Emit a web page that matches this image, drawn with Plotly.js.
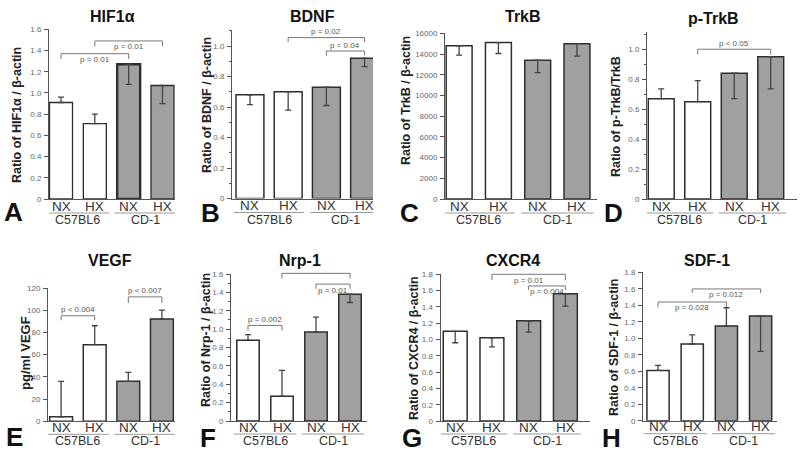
<!DOCTYPE html>
<html><head><meta charset="utf-8">
<script src="https://cdn.plot.ly/plotly-3.0.1.min.js"></script>
<style>html,body{margin:0;padding:0;background:#fff;}#chart{width:800px;height:456px;}</style>
</head><body><div id="chart"></div>
<script>
// ---- data ----
const categories = ['NX', 'HX', 'NX', 'HX'];
const groups = ['C57BL6', 'CD-1'];
const strain = ['C57BL6', 'C57BL6', 'CD-1', 'CD-1'];

const hif1aValues = [0.91, 0.71, 1.27, 1.07];
const hif1aErr = [0.05, 0.09, 0.19, 0.17];
const hif1aErrDir = ['up', 'up', 'down', 'down'];
const hif1aTicks = [0, 0.2, 0.4, 0.6, 0.8, 1.0, 1.2, 1.4, 1.6];
const hif1aBrackets = [[0, 2, 1.37, 0.05, 'p = 0.01', 'below'], [1, 3, 1.49, 0.05, 'p = 0.01', 'below']];

const bdnfValues = [0.68, 0.70, 0.73, 0.92];
const bdnfErr = [0.065, 0.12, 0.12, 0.055];
const bdnfErrDir = ['down', 'down', 'down', 'down'];
const bdnfTicks = [0, 0.2, 0.4, 0.6, 0.8, 1.0];
const bdnfBrackets = [[1, 3, 1.055, 0.03, 'p = 0.02', 'above'], [2, 3, 0.967, 0.03, 'p = 0.04', 'above']];

const trkbValues = [14800, 15100, 13400, 15000];
const trkbErr = [900, 1050, 1200, 1200];
const trkbErrDir = ['down', 'down', 'down', 'down'];
const trkbTicks = [0, 2000, 4000, 6000, 8000, 10000, 12000, 14000, 16000];
const trkbBrackets = [];

const ptrkbValues = [0.67, 0.65, 0.84, 0.95];
const ptrkbErr = [0.065, 0.14, 0.17, 0.215];
const ptrkbErrDir = ['up', 'up', 'down', 'down'];
const ptrkbTicks = [0, 0.2, 0.4, 0.6, 0.8, 1.0];
const ptrkbBrackets = [[1, 3, 1.0, 0.035, 'p < 0.05', 'above']];

const vegfValues = [4, 69, 36, 92];
const vegfErr = [32, 17, 8, 8];
const vegfErrDir = ['up', 'up', 'up', 'up'];
const vegfTicks = [0, 20, 40, 60, 80, 100, 120];
const vegfBrackets = [[0, 1, 95, 4, 'p < 0.004', 'above'], [2, 3, 112, 5.5, 'p < 0.007', 'above']];

const nrp1Values = [0.88, 0.27, 0.97, 1.38];
const nrp1Err = [0.06, 0.28, 0.16, 0.09];
const nrp1ErrDir = ['up', 'up', 'up', 'down'];
const nrp1Ticks = [0, 0.2, 0.4, 0.6, 0.8, 1.0, 1.2, 1.4, 1.6];
const nrp1Brackets = [[0, 1, 1.04, 0.055, 'p = 0.002', 'above'], [1, 3, 1.607, 0.055, 'p = 0.005', 'below'], [2, 3, 1.49, 0.05, 'p = 0.01', 'below']];

const cxcr4Values = [1.10, 1.02, 1.23, 1.56];
const cxcr4Err = [0.14, 0.11, 0.14, 0.15];
const cxcr4ErrDir = ['down', 'down', 'down', 'down'];
const cxcr4Ticks = [0, 0.2, 0.4, 0.6, 0.8, 1.0, 1.2, 1.4, 1.6, 1.8];
const cxcr4Brackets = [[1, 3, 1.80, 0.07, 'p = 0.01', 'below'], [2, 3, 1.657, 0.05, 'p = 0.004', 'below']];

const sdf1Values = [0.61, 0.93, 1.15, 1.27];
const sdf1Err = [0.06, 0.11, 0.22, 0.43];
const sdf1ErrDir = ['up', 'up', 'up', 'down'];
const sdf1Ticks = [0, 0.2, 0.4, 0.6, 0.8, 1.0, 1.2, 1.4, 1.6, 1.8];
const sdf1Brackets = [[0, 2, 1.44, 0.06, 'p = 0.028', 'below'], [1, 3, 1.598, 0.05, 'p = 0.012', 'below']];

// ---- panel layout (positions in px) ----
const panels = [
  {letter:'A', title:'HIF1α', ytitle:'Ratio of HIF1α / β-actin', v:hif1aValues, e:hif1aErr, d:hif1aErrDir, ticks:hif1aTicks, br:hif1aBrackets,
   box:[49,175,29.3,199], ymax:1.6, xr:[-0.355,3.37], w:0.68, minor:false, row:1, tx:112, ty:17, ytx:17, yty:115, lx:13, ly:212, decimals:1},
  {letter:'B', title:'BDNF', ytitle:'Ratio of BDNF / β-actin', v:bdnfValues, e:bdnfErr, d:bdnfErrDir, ticks:bdnfTicks, br:bdnfBrackets,
   box:[232,373,30,198.5], ymax:1.105, xr:[-0.47,3.22], w:0.73, minor:true, row:1, tx:312, ty:17, ytx:207, yty:105, lx:210, ly:213, decimals:1},
  {letter:'C', title:'TrkB', ytitle:'Ratio of TrkB / β-actin', v:trkbValues, e:trkbErr, d:trkbErrDir, ticks:trkbTicks, br:trkbBrackets,
   box:[445,597,33.3,199], ymax:16000, xr:[-0.36,3.51], w:0.66, minor:false, row:1, tx:523, ty:17, ytx:406, yty:100, lx:409, ly:213, decimals:0},
  {letter:'D', title:'p-TrkB', ytitle:'Ratio of p-TrkB/TrkB', v:ptrkbValues, e:ptrkbErr, d:ptrkbErrDir, ticks:ptrkbTicks, br:ptrkbBrackets,
   box:[647,797,32.3,199], ymax:1.113, xr:[-0.39,3.72], w:0.71, minor:true, row:1, tx:713, ty:19, ytx:616, yty:117, lx:613, ly:213, decimals:1},
  {letter:'E', title:'VEGF', ytitle:'pg/ml VEGF', v:vegfValues, e:vegfErr, d:vegfErrDir, ticks:vegfTicks, br:vegfBrackets,
   box:[48,175,288,421.3], ymax:120, xr:[-0.39,3.39], w:0.68, minor:false, row:2, tx:110, ty:260, ytx:25, yty:353, lx:14, ly:437, decimals:0},
  {letter:'F', title:'Nrp-1', ytitle:'Ratio of Nrp-1 / β-actin', v:nrp1Values, e:nrp1Err, d:nrp1ErrDir, ticks:nrp1Ticks, br:nrp1Brackets,
   box:[231,367,274,421], ymax:1.6, xr:[-0.5,3.5], w:0.66, minor:true, row:2, tx:300, ty:260, ytx:206, yty:340, lx:208, ly:438, decimals:1},
  {letter:'G', title:'CXCR4', ytitle:'Ratio of CXCR4 / β-actin', v:cxcr4Values, e:cxcr4Err, d:cxcr4ErrDir, ticks:cxcr4Ticks, br:cxcr4Brackets,
   box:[440.5,590,274.3,421], ymax:1.8, xr:[-0.40,3.67], w:0.65, minor:false, row:2, tx:513, ty:260, ytx:414, yty:348, lx:412, ly:438, decimals:1},
  {letter:'H', title:'SDF-1', ytitle:'Ratio of SDF-1 / β-actin', v:sdf1Values, e:sdf1Err, d:sdf1ErrDir, ticks:sdf1Ticks, br:sdf1Brackets,
   box:[643,777,272.3,420.7], ymax:1.8, xr:[-0.44,3.48], w:0.65, minor:false, row:2, tx:707, ty:260, ytx:614, yty:347, lx:611, ly:438, decimals:1}
];

const W = 800, H = 456;
const FONT = 'Liberation Sans, Arial, Helvetica, sans-serif';
const px = x => x / W;
const py = y => 1 - y / H;
const WHITE = '#ffffff', GRAY = '#a0a0a0', EDGE = '#2e2e2e', AXIS = '#555555';

const traces = [];
const layout = {
  width: W, height: H, margin: {l:0, r:0, t:0, b:0},
  paper_bgcolor: '#fff', plot_bgcolor: '#fff', showlegend: false, bargap: 0,
  font: {family: FONT, color: '#222'},
  annotations: [], shapes: []
};

panels.forEach((p, i) => {
  const n = i + 1;
  const xa = n === 1 ? 'x' : 'x' + n;
  const ya = n === 1 ? 'y' : 'y' + n;
  const [x0, x1, yTop, yZero] = p.box;
  const xs = categories.map((c, k) => k);
  traces.push({
    type: 'bar', x: xs, y: p.v, xaxis: xa, yaxis: ya, width: p.w,
    marker: {color: strain.map(s => s === groups[0] ? WHITE : GRAY),
             line: {color: EDGE, width: p.letter === 'A' ? [1.3, 1.3, 2.4, 1.3] : 1.5}},
    error_y: {type: 'data', symmetric: false,
              array: p.e.map((e, k) => p.d[k] === 'up' ? e : 0),
              arrayminus: p.e.map((e, k) => p.d[k] === 'down' ? e : 0),
              color: '#444', thickness: 1.3, width: 3},
    hoverinfo: 'skip'
  });
  const xk = n === 1 ? 'xaxis' : 'xaxis' + n;
  const yk = n === 1 ? 'yaxis' : 'yaxis' + n;
  layout[xk] = {domain: [px(x0), px(x1)], anchor: ya, range: p.xr, showline: true, linecolor: AXIS, linewidth: 1,
                showgrid: false, zeroline: false, ticks: '', showticklabels: false, fixedrange: true};
  const yax = {domain: [py(yZero), py(yTop)], anchor: xa, range: [0, p.ymax], showline: true, linecolor: AXIS, linewidth: 1,
               showgrid: false, zeroline: false, ticks: 'outside', ticklen: 4, tickcolor: AXIS, tickwidth: 1,
               tickmode: 'array', tickvals: p.ticks,
               ticktext: p.ticks.map(t => t === 0 ? '0' : t.toFixed(p.decimals)),
               tickfont: {family: FONT, size: 8, color: '#666'}, ticklabelstandoff: 1, fixedrange: true};
  if (p.minor) yax.minor = {dtick: p.ticks[1] / 2, tick0: 0, ticks: 'outside', ticklen: 2, tickcolor: AXIS, showgrid: false};
  layout[yk] = yax;

  // category labels
  const off = p.row === 1 ? {nx: 7.5, line: 14, grp: 21} : {nx: 6, line: 13, grp: 20};
  categories.forEach((c, k) => {
    layout.annotations.push({xref: xa, yref: 'paper', x: k, y: py(yZero + off.nx), text: c, showarrow: false,
      xanchor: 'center', yanchor: 'middle', font: {family: FONT, size: 13.5, color: '#333'}});
  });
  groups.forEach((g, gi) => {
    const a = Math.max(gi * 2 - 0.42, p.xr[0]);
    const b = Math.min(gi * 2 + 1.42, p.xr[1]);
    layout.shapes.push({type: 'line', xref: xa, yref: 'paper', x0: a, x1: b, y0: py(yZero + off.line), y1: py(yZero + off.line),
      line: {color: '#999', width: 1}});
    layout.annotations.push({xref: xa, yref: 'paper', x: gi * 2 + 0.5, y: py(yZero + off.grp), text: g, showarrow: false,
      xanchor: 'center', yanchor: 'middle', font: {family: FONT, size: 12.5, color: '#333'}});
  });

  // significance brackets (drawn in the y-axis domain frame so they are not clipped above the range)
  p.br.forEach(([a, b, h, drop, label, pos]) => {
    const top = h / p.ymax, bot = (h - drop) / p.ymax;
    layout.shapes.push({type: 'path', xref: xa, yref: ya + ' domain',
      path: `M ${a} ${bot} L ${a} ${top} L ${b} ${top} L ${b} ${bot}`,
      line: {color: '#777', width: 1}});
    layout.annotations.push({xref: xa, yref: ya, x: (a + b) / 2, y: h, text: label, showarrow: false,
      xanchor: 'center', yanchor: 'middle', yshift: pos === 'above' ? 6 : -6,
      font: {family: FONT, size: 8, color: '#555'}});
  });

  // titles, y titles, letters
  layout.annotations.push({xref: 'paper', yref: 'paper', x: px(p.tx), y: py(p.ty), text: '<b>' + p.title + '</b>',
    showarrow: false, xanchor: 'center', yanchor: 'middle', font: {family: FONT, size: 16, color: '#111'}});
  layout.annotations.push({xref: 'paper', yref: 'paper', x: px(p.ytx), y: py(p.yty), text: '<b>' + p.ytitle + '</b>',
    showarrow: false, textangle: -90, xanchor: 'center', yanchor: 'middle',
    font: {family: FONT, size: p.letter === 'E' ? 13 : 12.5, color: '#222'}});
  layout.annotations.push({xref: 'paper', yref: 'paper', x: px(p.lx), y: py(p.ly), text: '<b>' + p.letter + '</b>',
    showarrow: false, xanchor: 'center', yanchor: 'middle', font: {family: FONT, size: 26, color: '#111'}});
});

Plotly.newPlot('chart', traces, layout, {staticPlot: true, displayModeBar: false});
</script>
</body></html>
